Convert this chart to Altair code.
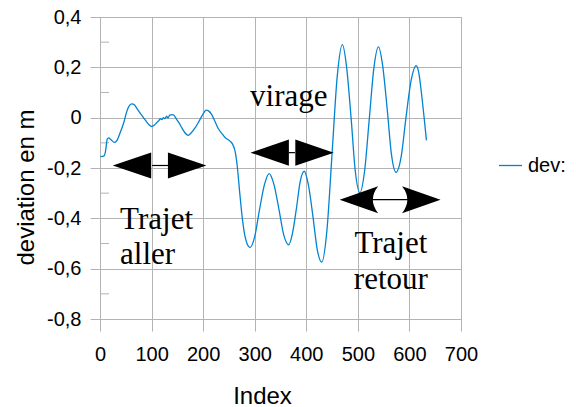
import altair as alt
import pandas as pd

# ---- data ----
idx = [1, 8, 11, 14, 17, 21, 28, 33, 39, 46, 52, 57, 62, 67, 72, 80, 88, 95, 100,
       105, 110, 114, 117, 120, 123, 126, 129, 132, 135, 140, 144, 148, 153, 158,
       164, 171, 177, 184, 191, 198, 202, 206, 211, 216, 223, 229, 236, 243, 249,
       253, 257, 262, 266, 271, 276, 281, 286, 291,
       300, 309, 319, 328, 337, 347, 356, 366, 373, 381, 388, 396, 404, 413, 421, 430,
       440, 450, 460, 470, 478, 487, 495, 504, 513, 522, 531, 540, 548, 557, 565, 574,
       584, 593, 603, 613, 618, 624, 628, 633]
dev = [-0.155, -0.152, -0.13, -0.085, -0.08, -0.087, -0.098, -0.09, -0.06, -0.02,
       0.025, 0.048, 0.055, 0.05, 0.035, 0.012, -0.01, -0.028, -0.035,
       -0.03, -0.02, -0.012, -0.004, -0.008, 0.0, -0.004, 0.006, -0.002, 0.01, 0.012,
       0.008, -0.005, -0.02, -0.038, -0.058, -0.07, -0.06, -0.042, -0.018, 0.008,
       0.022, 0.03, 0.026, 0.014, -0.015, -0.042, -0.062, -0.08, -0.088,
       -0.095, -0.105, -0.134, -0.19, -0.3, -0.4, -0.47, -0.505, -0.516,
       -0.473, -0.369, -0.265, -0.222, -0.263, -0.364, -0.464, -0.505, -0.462, -0.359,
       -0.256, -0.213, -0.266, -0.394, -0.521, -0.574,
       -0.448, -0.142, 0.164, 0.29, 0.204, -0.004, -0.212, -0.298, -0.213, -0.009,
       0.196, 0.281, 0.208, 0.032, -0.144, -0.217,
       -0.155, -0.005, 0.145, 0.207, 0.18, 0.085, 0.01, -0.09]
series_name = "dev:"

x_ticks = [0, 100, 200, 300, 400, 500, 600, 700]
y_ticks = [-0.8, -0.6, -0.4, -0.2, 0, 0.2, 0.4]
y_minor = [-0.7, -0.5, -0.3, -0.1, 0.1, 0.3]

arrow_x = [62, 169, 329, 416, 502, 623]
arrow_y = [-0.19, -0.19, -0.139, -0.139, -0.326, -0.326]
arrow_dir = ["L", "R", "L", "R", "Lc", "Rc"]
link_x1 = [101, 366, 512]
link_x2 = [132, 378, 603]
link_y = [-0.19, -0.139, -0.326]

left_text = ["virage", "Trajet", "aller"]
left_text_x = [291, 39, 39]
left_text_y = [0.048, -0.441, -0.580]
center_text = ["Trajet", "retour"]
center_text_x = [564, 564]
center_text_y = [-0.536, -0.679]

# ---- tables ----
line_df = pd.DataFrame({"Index": idx, "dev": dev, "series": series_name})
minor_df = pd.DataFrame({"y": y_minor})
arrow_df = pd.DataFrame({"x": arrow_x, "y": arrow_y, "dir": arrow_dir})
link_df = pd.DataFrame({"x": link_x1, "x2": link_x2, "y": link_y})
ltext_df = pd.DataFrame({"t": left_text, "x": left_text_x, "y": left_text_y})
ctext_df = pd.DataFrame({"t": center_text, "x": center_text_x, "y": center_text_y})

GRID = "#b3b3b3"
xscale = alt.Scale(domain=[0, 700], nice=False, zero=False)
yscale = alt.Scale(domain=[-0.8, 0.4], nice=False, zero=False)

ylabel = ("abs(datum.value) < 1e-9 ? '0' : (datum.value < 0 ? '-' : '') + "
          "replace(format(abs(datum.value), '.1f'), '.', ',')")

line = alt.Chart(line_df).mark_line(strokeWidth=1.3, interpolate="monotone").encode(
    x=alt.X("Index:Q", scale=xscale,
            axis=alt.Axis(values=x_ticks, title="Index", tickSize=12, labelPadding=13,
                          labelFlush=False,
                          titleX=162, titleY=84, titleBaseline="alphabetic")),
    y=alt.Y("dev:Q", scale=yscale,
            axis=alt.Axis(values=y_ticks, title="deviation en m", tickSize=10,
                          labelPadding=9, labelExpr=ylabel, labelFlush=False,
                          titleX=-67, titleY=170, titleBaseline="alphabetic")),
    color=alt.Color("series:N", scale=alt.Scale(range=["#0084d1"]),
                    legend=alt.Legend(title=None, orient="none", legendX=398, legendY=136,
                                      symbolType="stroke", symbolSize=530,
                                      symbolStrokeWidth=1.3, labelFontSize=20,
                                      labelFont="Liberation Sans", labelColor="black",
                                      labelOffset=5)),
)

minor = alt.Chart(minor_df).mark_rule(color=GRID, strokeWidth=1).encode(
    y=alt.Y("y:Q", scale=yscale), x=alt.value(0), x2=alt.value(9)
)

links = alt.Chart(link_df).mark_rule(color="black", strokeWidth=1.2).encode(
    x=alt.X("x:Q", scale=xscale), x2="x2:Q", y=alt.Y("y:Q", scale=yscale)
)

shapes = alt.Chart(arrow_df).mark_point(filled=True, opacity=1, color="black",
                                        strokeWidth=0).encode(
    x=alt.X("x:Q", scale=xscale),
    y=alt.Y("y:Q", scale=yscale),
    shape=alt.Shape("dir:N", legend=None, scale=alt.Scale(
        domain=["L", "R", "Lc", "Rc"],
        range=["M-1,0L1,-0.68L1,0.68Z", "M1,0L-1,-0.68L-1,0.68Z",
               "M-1,0L1,-0.7Q0.45,0,1,0.7Z", "M1,0L-1,-0.7Q-0.45,0,-1,0.7Z"])),
    size=alt.value(1480),
)

ltext = alt.Chart(ltext_df).mark_text(font="Liberation Serif", fontSize=31, align="left",
                                      baseline="alphabetic", color="black").encode(
    x=alt.X("x:Q", scale=xscale), y=alt.Y("y:Q", scale=yscale), text="t:N"
)
ctext = alt.Chart(ctext_df).mark_text(font="Liberation Serif", fontSize=31, align="center",
                                      baseline="alphabetic", color="black").encode(
    x=alt.X("x:Q", scale=xscale), y=alt.Y("y:Q", scale=yscale), text="t:N"
)

chart = alt.layer(minor, line, links, shapes, ltext, ctext).properties(
    width=361, height=302,
    padding={"left": 100, "top": 17, "right": 115, "bottom": 88},
    autosize=alt.AutoSizeParams(type="none"),
    background="white",
).configure_view(stroke=GRID, strokeWidth=1).configure_axis(
    gridColor=GRID, domainColor=GRID, tickColor=GRID, gridWidth=1, domainWidth=1,
    tickWidth=1, labelFont="Liberation Sans", labelFontSize=20, labelColor="black",
    titleFont="Liberation Sans", titleFontSize=24, titleFontWeight="normal",
    titleColor="black", grid=True
)

chart.save("out.html", embed_options={"renderer": "svg", "actions": False})
